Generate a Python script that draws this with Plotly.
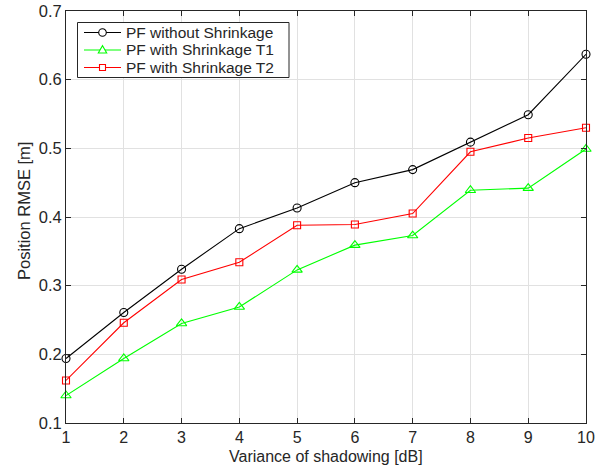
import plotly.graph_objects as go

x_vals = [1, 2, 3, 4, 5, 6, 7, 8, 9, 10]
pf_no_shrink = [0.194, 0.261, 0.324, 0.383, 0.413, 0.450, 0.469, 0.509, 0.549, 0.637]
pf_shrink_t1 = [0.140, 0.194, 0.245, 0.269, 0.323, 0.359, 0.373, 0.439, 0.442, 0.499]
pf_shrink_t2 = [0.162, 0.246, 0.309, 0.334, 0.388, 0.389, 0.405, 0.495, 0.515, 0.530]
series_names = ["PF without Shrinkage", "PF with Shrinkage T1", "PF with Shrinkage T2"]
x_ticks = [1, 2, 3, 4, 5, 6, 7, 8, 9, 10]
y_ticks = [0.1, 0.2, 0.3, 0.4, 0.5, 0.6, 0.7]
x_title = "Variance of shadowing [dB]"
y_title = "Position RMSE [m]"

W, H = 609, 467
ML, MR, MT, MB = 66, 23, 11, 44
PW, PH = W - ML - MR, H - MT - MB
FONT = "Liberation Sans, Arial, Helvetica, sans-serif"
TXT = "#262626"
FS = 16.5
TFS = 16
LFS = 15.5

def px2paper_x(px):
    return (px - ML) / PW

def px2paper_y(py):
    return (H - MB - py) / PH

fig = go.Figure()
specs = [
    (pf_no_shrink, "#000000", "circle-open", 8),
    (pf_shrink_t1, "#00ff00", "triangle-up-open", 9),
    (pf_shrink_t2, "#ff0000", "square-open", 7),
]
for name, (vals, color, sym, sz) in zip(series_names, specs):
    fig.add_trace(go.Scatter(
        x=x_vals, y=vals, name=name, mode="lines+markers",
        line=dict(color=color, width=1.1),
        marker=dict(symbol=sym, size=sz, color=color, line=dict(color=color, width=1.1)),
        cliponaxis=False, showlegend=False,
    ))

# manual legend (layout decoration)
shapes = []
annotations = []
box_l, box_r, box_t, box_b = 77.5, 289, 22.5, 77.5
shapes.append(dict(type="rect", xref="paper", yref="paper",
                   x0=px2paper_x(box_l), x1=px2paper_x(box_r),
                   y0=px2paper_y(box_b), y1=px2paper_y(box_t),
                   line=dict(color=TXT, width=1), fillcolor="white", layer="above"))
row_y = [32.5, 50, 67.5]
line_x0, line_x1, mark_x, text_x = 84, 121, 102.5, 124
for (vals, color, sym, sz), name, ry in zip(specs, series_names, row_y):
    yp = px2paper_y(ry)
    shapes.append(dict(type="line", xref="paper", yref="paper",
                       x0=px2paper_x(line_x0), x1=px2paper_x(line_x1), y0=yp, y1=yp,
                       line=dict(color=color, width=1.1), layer="above"))
    common = dict(xref="paper", yref="paper", xsizemode="pixel", ysizemode="pixel",
                  xanchor=px2paper_x(mark_x), yanchor=yp,
                  line=dict(color=color, width=1.1), fillcolor="white", layer="above")
    if sym.startswith("circle"):
        shapes.append(dict(type="circle", x0=-3.8, x1=3.8, y0=-3.8, y1=3.8, **common))
    elif sym.startswith("square"):
        shapes.append(dict(type="rect", x0=-3, x1=3, y0=-3, y1=3, **common))
    else:
        shapes.append(dict(type="path", path="M-4.2,-3 L4.2,-3 L0,4.3 Z", **common))
    annotations.append(dict(xref="paper", yref="paper", x=px2paper_x(text_x), y=yp,
                            xanchor="left", yanchor="middle", showarrow=False,
                            text=name, font=dict(size=LFS, color=TXT, family=FONT)))

# axis titles as annotations for exact placement
annotations.append(dict(xref="paper", yref="paper", x=px2paper_x(ML + PW / 2), y=px2paper_y(456),
                        xanchor="center", yanchor="middle", showarrow=False, borderpad=0,
                        text=x_title, font=dict(size=TFS, color=TXT, family=FONT)))
annotations.append(dict(xref="paper", yref="paper", x=px2paper_x(24), y=px2paper_y(211),
                        xanchor="center", yanchor="middle", showarrow=False, textangle=-90,
                        text=y_title, font=dict(size=FS, color=TXT, family=FONT)))

axis_common = dict(
    showgrid=True, gridcolor="#e1e1e1", gridwidth=1,
    showline=True, linecolor=TXT, linewidth=1, mirror="ticks",
    ticks="inside", ticklen=5, tickcolor=TXT, automargin=False,
    zeroline=False,
)
fig.update_layout(
    width=W, height=H,
    margin=dict(l=ML, r=MR, t=MT, b=MB, pad=0),
    paper_bgcolor="white", plot_bgcolor="white",
    font=dict(family=FONT, color=TXT),
    showlegend=False,
    shapes=shapes, annotations=annotations,
    xaxis=dict(range=[1, 10], tickvals=x_ticks, ticktext=[str(t) for t in x_ticks],
               tickfont=dict(size=16, color=TXT, family=FONT), **axis_common),
    yaxis=dict(range=[0.1, 0.7], tickvals=y_ticks, ticktext=[f"{t:.1f}" for t in y_ticks],
               tickfont=dict(size=FS, color=TXT, family=FONT), **axis_common),
)
fig.write_html("out.html", config={"displayModeBar": False},
               post_script="document.body.style.margin='0';")
